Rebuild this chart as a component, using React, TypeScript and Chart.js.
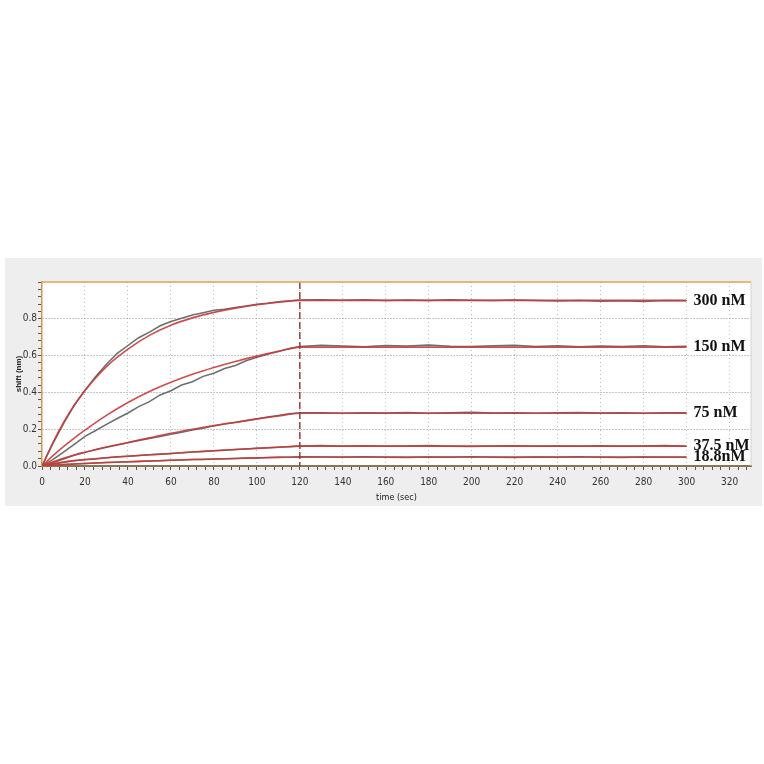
import { useEffect, useRef } from "react";
import { Chart, registerables } from "chart.js";

Chart.register(...registerables);

// fitted curves (red), association phase then flat
const fitTimes = [0, 5, 10, 15, 20, 30, 40, 50, 60, 70, 80, 90, 100, 110, 120, 300];
const fit300 = [0, 0.125, 0.235, 0.33, 0.41, 0.54, 0.635, 0.71, 0.765, 0.805, 0.835, 0.858, 0.876, 0.89, 0.9, 0.9];
const fit150 = [0, 0.055, 0.105, 0.152, 0.195, 0.275, 0.345, 0.405, 0.455, 0.498, 0.535, 0.568, 0.597, 0.623, 0.646, 0.646];
const fit75 = [0, 0.022, 0.042, 0.06, 0.075, 0.103, 0.128, 0.153, 0.178, 0.2, 0.22, 0.238, 0.256, 0.272, 0.287, 0.287];
const fit37 = [0, 0.012, 0.021, 0.029, 0.035, 0.045, 0.053, 0.061, 0.068, 0.076, 0.083, 0.09, 0.096, 0.102, 0.108, 0.108];
const fit18 = [0, 0.005, 0.008, 0.011, 0.014, 0.019, 0.023, 0.027, 0.031, 0.035, 0.038, 0.041, 0.044, 0.047, 0.049, 0.049];

// measured traces (grey)
const rawTimes = [
  0, 5, 10, 15, 20, 25, 30, 35, 40, 45, 50, 55, 60, 65, 70, 75, 80, 85, 90, 95, 100, 105, 110, 115, 120,
  130, 140, 150, 160, 170, 180, 190, 200, 210, 220, 230, 240, 250, 260, 270, 280, 290, 300,
];
const raw300 = [
  0, 0.12, 0.23, 0.33, 0.41, 0.487, 0.553, 0.612, 0.655, 0.697, 0.728, 0.762, 0.785, 0.803, 0.821, 0.833, 0.846, 0.852, 0.862, 0.869, 0.879, 0.885, 0.893, 0.897, 0.902,
  0.904, 0.901, 0.903, 0.899, 0.902, 0.9, 0.903, 0.901, 0.899, 0.902, 0.9, 0.897, 0.899, 0.895, 0.898, 0.894, 0.899, 0.898,
];
const raw150 = [
  0, 0.035, 0.076, 0.118, 0.161, 0.193, 0.226, 0.258, 0.288, 0.323, 0.35, 0.386, 0.409, 0.44, 0.458, 0.487, 0.504, 0.53, 0.546, 0.572, 0.591, 0.607, 0.623, 0.637, 0.649,
  0.656, 0.652, 0.648, 0.655, 0.652, 0.657, 0.651, 0.649, 0.653, 0.656, 0.65, 0.654, 0.648, 0.652, 0.649, 0.653, 0.648, 0.651,
];
const raw75 = [
  0, 0.018, 0.038, 0.058, 0.074, 0.088, 0.102, 0.114, 0.126, 0.138, 0.15, 0.16, 0.172, 0.184, 0.196, 0.205, 0.218, 0.228, 0.236, 0.246, 0.255, 0.266, 0.275, 0.284, 0.29,
  0.289, 0.287, 0.29, 0.288, 0.291, 0.287, 0.289, 0.292, 0.288, 0.29, 0.287, 0.289, 0.291, 0.288, 0.29, 0.287, 0.289, 0.29,
];
const raw37 = [
  0, 0.01, 0.02, 0.028, 0.034, 0.038, 0.045, 0.05, 0.053, 0.057, 0.061, 0.064, 0.068, 0.072, 0.076, 0.079, 0.083, 0.086, 0.089, 0.093, 0.096, 0.099, 0.102, 0.105, 0.109,
  0.111, 0.108, 0.11, 0.107, 0.109, 0.111, 0.108, 0.106, 0.109, 0.11, 0.107, 0.109, 0.108, 0.11, 0.107, 0.109, 0.111, 0.108,
];
const raw18 = [
  0, 0.004, 0.008, 0.011, 0.014, 0.016, 0.019, 0.021, 0.023, 0.025, 0.027, 0.029, 0.031, 0.033, 0.035, 0.036, 0.038, 0.04, 0.041, 0.043, 0.044, 0.046, 0.047, 0.048, 0.05,
  0.049, 0.047, 0.05, 0.048, 0.046, 0.049, 0.047, 0.05, 0.048, 0.046, 0.049, 0.047, 0.05, 0.048, 0.046, 0.049, 0.048, 0.047,
];

const concLabels = ["300 nM", "150 nM", "75 nM", "37.5 nM", "18.8nM"];
const fitSeries = [fit300, fit150, fit75, fit37, fit18];
const rawSeries = [raw300, raw150, raw75, raw37, raw18];

const xTickLabels = [0, 20, 40, 60, 80, 100, 120, 140, 160, 180, 200, 220, 240, 260, 280, 300, 320];
const yTickLabels = [0, 0.2, 0.4, 0.6, 0.8];
const dissociationStart = 120;

const xMinor = Array.from({ length: 83 }, (_, i) => i * 4);
const yMinor = Array.from({ length: 26 }, (_, i) => Math.round(i * 4) / 100);

const tickFont = { family: "'Liberation Sans Narrow', 'DejaVu Sans Condensed', 'Liberation Sans', Arial, sans-serif", size: 10 };

const panelPlugin = {
  id: "panel",
  beforeDraw(chart: any) {
    const { ctx, chartArea: a, width, height } = chart;
    ctx.save();
    ctx.fillStyle = "#eeeeee";
    ctx.fillRect(0, 0, width, height);
    ctx.fillStyle = "#ffffff";
    ctx.fillRect(a.left, a.top, a.right - a.left, a.bottom - a.top);
    ctx.restore();
  },
  afterDatasetsDraw(chart: any) {
    const { ctx, chartArea: a, scales } = chart;
    const x = scales.x.getPixelForValue(dissociationStart);
    ctx.save();
    ctx.strokeStyle = "#93403f";
    ctx.lineWidth = 1.5;
    ctx.setLineDash([7, 3]);
    ctx.beginPath();
    ctx.moveTo(x, a.top);
    ctx.lineTo(x, a.bottom);
    ctx.stroke();
    ctx.restore();
  },
  afterDraw(chart: any) {
    const { ctx, chartArea: a, scales } = chart;
    ctx.save();
    ctx.lineWidth = 1.5;
    ctx.strokeStyle = "#dfa552";
    ctx.beginPath();
    ctx.moveTo(a.left, a.top);
    ctx.lineTo(a.right, a.top);
    ctx.stroke();
    ctx.strokeStyle = "#d2d2d2";
    ctx.lineWidth = 1;
    ctx.beginPath();
    ctx.moveTo(a.right, a.top);
    ctx.lineTo(a.right, a.bottom);
    ctx.stroke();

    ctx.fillStyle = "#111111";
    ctx.font = "bold 16px 'Liberation Serif', 'Times New Roman', serif";
    ctx.textBaseline = "middle";
    ctx.textAlign = "left";
    const lastT = fitTimes[fitTimes.length - 1];
    fitSeries.forEach((s, i) => {
      const x = scales.x.getPixelForValue(lastT) + 7;
      const y = scales.y.getPixelForValue(s[s.length - 1]);
      ctx.fillText(concLabels[i], x, y);
    });
    ctx.restore();
  },
};

export default function App() {
  const canvasRef = useRef<HTMLCanvasElement | null>(null);

  useEffect(() => {
    if (!canvasRef.current) return;
    const fitSets = fitSeries.map((s, i) => ({
      label: concLabels[i] + " fit",
      data: fitTimes.map((t, j) => ({ x: t, y: s[j] })),
      borderColor: "rgba(204, 56, 56, 0.9)",
      borderWidth: 1.6,
      pointRadius: 0,
      cubicInterpolationMode: "monotone" as const,
      tension: 0.4,
    }));
    const rawSets = rawSeries.map((s, i) => ({
      label: concLabels[i],
      data: rawTimes.map((t, j) => ({ x: t, y: s[j] })),
      borderColor: "#6a6e6e",
      borderWidth: 1.5,
      pointRadius: 0,
      tension: 0,
    }));

    const chart = new Chart(canvasRef.current, {
      type: "line",
      data: { datasets: [...fitSets, ...rawSets] as any },
      options: {
        animation: false,
        responsive: true,
        maintainAspectRatio: false,
        layout: { padding: { top: 24, right: 11, left: 0, bottom: 0 } },
        plugins: { legend: { display: false }, tooltip: { enabled: false } },
        scales: {
          x: {
            type: "linear",
            min: 0,
            max: 330,
            afterBuildTicks: (scale: any) => {
              scale.ticks = xMinor.map((v) => ({ value: v }));
            },
            afterFit: (scale: any) => {
              scale.height = 40;
            },
            ticks: {
              autoSkip: false,
              maxRotation: 0,
              padding: 6,
              color: "#333333",
              font: tickFont,
              callback: (v: any) => (xTickLabels.includes(Number(v)) ? String(v) : ""),
            },
            grid: {
              color: (ctx: any) =>
                ctx.tick && xTickLabels.includes(ctx.tick.value) && ctx.tick.value > 0 ? "#b8b8b8" : "rgba(0,0,0,0)",
              lineWidth: 1,
              tickColor: "#555555",
              tickLength: 4,
            },
            border: { display: true, color: "#8a7550", width: 2, dash: [1, 3] },
            title: {
              display: true,
              text: "time (sec)",
              color: "#222222",
              font: { family: tickFont.family, size: 9 },
              padding: { top: 0, bottom: 3 },
            },
          },
          y: {
            type: "linear",
            min: 0,
            max: 1,
            afterBuildTicks: (scale: any) => {
              scale.ticks = yMinor.map((v) => ({ value: v }));
            },
            afterFit: (scale: any) => {
              scale.width = 37;
            },
            ticks: {
              autoSkip: false,
              padding: 1,
              color: "#333333",
              font: tickFont,
              callback: (v: any) =>
                yTickLabels.some((l) => Math.abs(l - Number(v)) < 1e-6) ? Number(v).toFixed(1) : "",
            },
            grid: {
              color: (ctx: any) =>
                ctx.tick && ctx.tick.value > 0.01 && yTickLabels.some((l) => Math.abs(l - ctx.tick.value) < 1e-6)
                  ? "#8c8c8c"
                  : "rgba(0,0,0,0)",
              lineWidth: 1,
              tickColor: "#555555",
              tickLength: 4,
            },
            border: { display: true, color: "#c99a50", width: 1.5, dash: [1, 2] },
            title: {
              display: true,
              text: "shift (nm)",
              color: "#222222",
              font: { family: "'Liberation Sans', Arial, sans-serif", size: 8, weight: "bold" },
              padding: { top: 9, bottom: 0 },
            },
          },
        },
      },
      plugins: [panelPlugin],
    });

    return () => {
      chart.destroy();
    };
  }, []);

  return (
    <div style={{ position: "fixed", left: 0, top: 0, width: 764, height: 764, background: "#ffffff" }}>
      <div style={{ position: "absolute", left: 5, top: 258, width: 757, height: 248 }}>
        <canvas ref={canvasRef} />
      </div>
    </div>
  );
}
